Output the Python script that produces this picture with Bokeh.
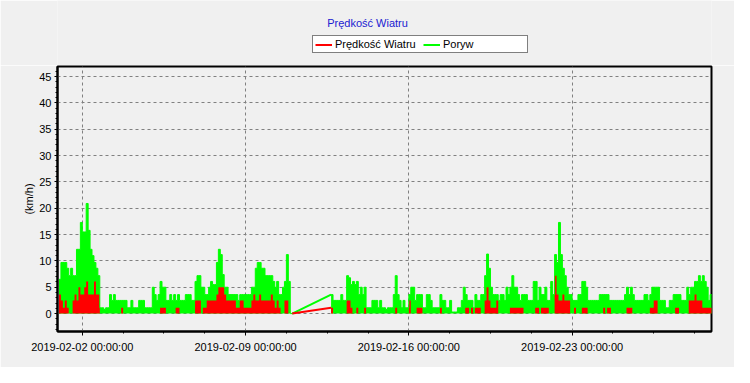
import numpy as np
from datetime import datetime
from bokeh.plotting import figure
from bokeh.layouts import column
from bokeh.models import (Range1d, FixedTicker, DatetimeTickFormatter, Legend,
                          LegendItem, Label)
from bokeh.embed import file_html
from bokeh.resources import INLINE

# ---------------- data (2-hour samples, km/h) ----------------
title_text = "Prędkość Wiatru"
series_names = ["Prędkość Wiatru", "Poryw"]
y_label = "(km/h)"
y_ticks = [0, 5, 10, 15, 20, 25, 30, 35, 40, 45]
x_ticks = ["2019-02-02", "2019-02-09", "2019-02-16", "2019-02-23"]

start_a = "2019-02-01T00:00"   # first block: 02-01 .. 02-10
gust_a = [
    6.5, 9.7, 9.7, 9.7, 8.6, 7.2, 8.6, 7.2, 7.2, 12.2, 12.2, 17.3,
    15.5, 15.5, 20.9, 15.8, 12.2, 11.0, 9.7, 8.6, 7.2, 1.1, 1.1, 0.8,
    1.1, 1.1, 3.6, 2.5, 3.6, 2.5, 2.5, 2.5, 2.5, 2.5, 2.5, 1.1,
    1.1, 2.5, 1.1, 1.1, 1.1, 2.5, 2.5, 2.5, 1.1, 1.1, 1.1, 1.1,
    5.0, 3.6, 2.5, 3.6, 6.1, 5.0, 5.0, 2.5, 2.5, 3.6, 2.5, 3.6,
    2.5, 3.6, 2.5, 2.5, 2.5, 3.6, 3.6, 3.6, 2.5, 2.5, 6.1, 7.2,
    7.2, 5.0, 5.0, 3.6, 3.6, 5.0, 6.1, 5.5, 5.5, 9.7, 12.2, 11.2,
    7.4, 5.0, 5.0, 3.6, 3.6, 3.6, 3.6, 3.6, 2.5, 3.6, 3.6, 3.6,
    3.6, 3.6, 3.6, 5.0, 5.0, 8.6, 9.7, 9.7, 8.6, 8.6, 7.2, 7.2,
    7.2, 7.2, 6.1, 5.0, 6.1, 3.6, 3.6, 5.0, 6.1, 11.2, 6.1, 0.0,
]
speed_a = [
    3.6, 2.5, 1.1, 2.5, 1.1, 0, 0, 2.5, 3.6, 2.5, 5.0, 3.6,
    3.6, 5.0, 6.1, 3.6, 3.6, 3.6, 6.1, 3.6, 3.6, 0, 0, 0,
    0, 0, 0, 0, 0, 0, 0, 0, 1.1, 0, 0, 0,
    0, 0, 0, 0, 0, 0, 0, 0, 0, 0, 0, 0,
    0, 0, 0, 0, 1.1, 1.1, 1.1, 0, 0, 0, 0, 0,
    1.1, 1.1, 0, 0, 0, 0, 0, 0, 0, 0, 2.5, 2.5,
    2.5, 0, 1.1, 1.1, 2.5, 2.5, 2.5, 2.5, 2.5, 3.6, 5.0, 5.0,
    5.0, 3.6, 2.5, 2.5, 2.5, 2.5, 2.5, 1.1, 1.1, 2.5, 2.5, 1.1,
    1.1, 1.1, 1.1, 2.5, 3.6, 2.5, 2.5, 3.6, 2.5, 2.5, 2.5, 2.5,
    2.5, 3.6, 2.5, 1.1, 2.5, 1.1, 0, 0, 2.5, 2.5, 0, 0,
]

start_b = "2019-02-12T16:00"   # second block after the data gap
gust_b = [
    3.6, 2.5, 2.5, 2.5,
    2.5, 3.6, 2.5, 2.5, 7.2, 6.8, 5.5, 6.1, 5.5, 6.1, 3.6, 5.0,
    3.6, 5.0, 1.1, 1.1, 1.1, 2.5, 2.5, 2.5, 1.1, 2.5, 1.1, 1.1,
    0.8, 1.1, 1.1, 1.1, 3.6, 7.2, 3.6, 2.5, 1.1, 2.5, 1.1, 1.1,
    3.6, 5.0, 5.0, 2.5, 3.6, 3.6, 3.6, 1.1, 1.1, 3.6, 3.6, 2.5,
    1.1, 1.1, 1.1, 1.1, 3.6, 2.5, 2.5, 1.1, 1.1, 2.5, 0.3, 0.3,
    0.3, 1.1, 1.1, 2.5, 5.0, 3.6, 2.5, 2.5, 2.5, 1.1, 3.6, 2.5,
    2.5, 3.6, 3.6, 7.2, 11.3, 8.6, 5.0, 3.6, 3.6, 3.6, 2.5, 3.6,
    3.6, 2.5, 5.0, 3.6, 5.0, 7.2, 5.0, 5.0, 3.6, 2.5, 3.6, 3.6,
    3.6, 2.5, 2.5, 2.5, 6.1, 6.1, 2.5, 5.0, 3.6, 3.6, 5.0, 2.5,
    2.5, 6.1, 3.6, 11.2, 9.7, 17.3, 11.2, 8.6, 7.2, 5.0, 3.6, 3.6,
    2.5, 2.5, 2.5, 3.6, 3.6, 6.1, 6.1, 5.0, 2.5, 2.5, 2.5, 2.5,
    2.5, 2.5, 3.6, 3.6, 3.6, 3.6, 3.6, 2.5, 2.5, 2.5, 2.5, 2.5,
    2.5, 2.5, 2.5, 3.6, 5.0, 3.6, 5.0, 3.6, 2.5, 2.5, 2.5, 2.5,
    2.5, 3.6, 3.6, 2.5, 3.6, 5.0, 5.0, 5.0, 5.0, 2.5, 2.5, 2.5,
    1.1, 1.1, 2.5, 2.5, 3.6, 3.6, 3.6, 3.6, 2.5, 2.5, 2.5, 5.0,
    3.6, 5.0, 5.0, 6.1, 6.1, 7.2, 6.1, 7.2, 6.1, 5.0, 2.5, 3.6,
]
speed_b = [
    1.1, 0, 0, 0,
    0, 0, 0, 0, 2.5, 2.5, 1.1, 0, 0, 1.1, 0, 0,
    0, 1.1, 0, 0, 0, 0, 0, 0, 0, 0, 0, 0,
    0, 0, 0, 0, 0, 1.1, 0, 0, 0, 0, 0, 0,
    2.5, 0, 0, 0, 1.1, 1.1, 1.1, 0, 0, 0, 0, 0,
    0, 0, 0, 0, 1.1, 0, 0, 0, 0, 0, 0, 0,
    0, 0, 0, 0, 0, 1.1, 1.1, 0, 1.1, 0, 1.1, 1.1,
    1.1, 0, 0, 2.5, 5.0, 2.5, 1.1, 1.1, 1.1, 2.5, 0, 0,
    0, 0, 0, 0, 1.1, 1.1, 1.1, 1.1, 1.1, 1.1, 1.1, 0,
    0, 0, 0, 0, 0, 1.1, 1.1, 0, 1.1, 1.1, 1.1, 1.1,
    0, 0, 0, 7.2, 3.6, 2.5, 2.5, 3.6, 2.5, 2.5, 2.5, 0,
    0, 1.1, 0, 0, 0, 1.1, 1.1, 1.1, 0, 0, 0, 0,
    0, 0, 0, 0, 1.1, 0, 1.1, 1.1, 0, 0, 0, 0,
    0, 0, 0, 0, 1.1, 1.1, 1.1, 0, 0, 0, 0, 0,
    0, 0, 0, 0, 1.1, 1.1, 2.5, 2.5, 0, 0, 0, 0,
    0, 0, 0, 0, 0, 1.1, 1.1, 0, 0, 0, 0, 0,
    2.5, 2.5, 2.5, 3.6, 2.5, 2.5, 2.5, 1.1, 1.1, 1.1, 1.1, 1.1,
]

# ---------------- derived arrays ----------------
step = np.timedelta64(2, "h")
t_a = np.datetime64(start_a) + np.arange(len(gust_a) + 1) * step
t_b = np.datetime64(start_b) + np.arange(len(gust_b) + 1) * step
ga = gust_a + [gust_a[-1]]
sa = speed_a + [speed_a[-1]]
gb = gust_b + [gust_b[-1]]
sb = speed_b + [speed_b[-1]]
t_all = np.concatenate([t_a, t_b])

RED = "#ff0000"
GREEN = "#00ff00"
FONT = "Liberation Sans"
BG = "#f0f0f0"

x_rng = Range1d(datetime(2019, 1, 31, 22, 28), datetime(2019, 2, 28, 23, 27))

# ---------------- header (title + legend) ----------------
head = figure(width=734, height=65, output_backend="svg", toolbar_location=None,
              title_location=None, x_axis_location=None, y_axis_location=None,
              x_axis_type="datetime", x_range=x_rng, y_range=Range1d(100, 110),
              min_border_left=57, min_border_right=23, min_border_top=0,
              min_border_bottom=0, outline_line_color=None,
              background_fill_color=BG, border_fill_color=BG)
head.xgrid.visible = False
head.ygrid.visible = False
# legend carriers (data lie below this header's visible range)
red_leg = head.step(t_all, sa + sb, mode="after", line_color=RED, line_width=2)
green_leg = head.step(t_all, ga + gb, mode="after", line_color=GREEN, line_width=2)
# header frame is aligned with the chart frame (starts at x=57)
head.add_layout(Label(x=310, y=43, x_units="screen", y_units="screen",
                      text=title_text, text_align="center", text_baseline="middle",
                      text_font=FONT, text_font_size="11px", text_color="#2020d0"))
legend = Legend(items=[LegendItem(label=series_names[0], renderers=[red_leg]),
                       LegendItem(label=series_names[1], renderers=[green_leg])],
                location=(255, 12), orientation="horizontal",
                glyph_width=17, glyph_height=11, label_height=11, label_width=82,
                label_standoff=3, spacing=6, padding=2, margin=0,
                label_text_font=FONT, label_text_font_size="11px",
                label_text_color="black",
                border_line_color="black", border_line_width=1,
                background_fill_color="white", background_fill_alpha=1.0)
head.add_layout(legend)

# ---------------- main chart ----------------
p = figure(width=734, height=302, x_axis_type="datetime",
           output_backend="svg", toolbar_location=None, title_location=None,
           x_range=x_rng, y_range=Range1d(-3.4, 46.9),
           min_border_left=57, min_border_right=23,
           min_border_top=1, min_border_bottom=36,
           background_fill_color=BG, border_fill_color=BG)
p.outline_line_color = "black"
p.outline_line_width = 2

for t, g in ((t_a, ga), (t_b, gb)):
    p.varea_step(x=t, y1=0, y2=g, step_mode="after", fill_color=GREEN)
for t, s in ((t_a, sa), (t_b, sb)):
    p.varea_step(x=t, y1=0, y2=s, step_mode="after", fill_color=RED)
for t, g in ((t_a, ga), (t_b, gb)):
    p.step(t, g, mode="after", line_color=GREEN, line_width=1)
# lines across the data gap
p.line([t_a[-1], t_b[0]], [ga[-1], gb[0]], line_color=GREEN, line_width=2)
p.line([t_a[-1], t_b[0]], [sa[-1], sb[0]], line_color=RED, line_width=2)

# axes
xt = [np.datetime64(d).astype("datetime64[ms]").astype(np.int64) for d in x_ticks]
minor_step = 42 * 3600 * 1000
minor = [xt[0] + k * minor_step for k in range(0, 16)]
p.xaxis.ticker = FixedTicker(ticks=xt, minor_ticks=minor)
fmt = "%Y-%m-%d %H:%M:%S"
p.xaxis.formatter = DatetimeTickFormatter(
    microseconds=fmt, milliseconds=fmt, seconds=fmt, minsec=fmt, minutes=fmt,
    hourmin=fmt, hours=fmt, days=fmt, months=fmt, years=fmt)
p.yaxis.ticker = FixedTicker(ticks=y_ticks, minor_ticks=list(range(-3, 47)))
p.yaxis.axis_label = y_label

for ax in (p.xaxis, p.yaxis):
    ax.axis_line_color = "black"
    ax.axis_line_width = 2
    ax.major_tick_line_color = "black"
    ax.minor_tick_line_color = "black"
    ax.major_tick_in = 0
    ax.minor_tick_in = 0
    ax.major_label_text_font = FONT
    ax.major_label_text_font_size = "11px"
    ax.major_label_text_color = "black"
    ax.axis_label_text_font = FONT
    ax.axis_label_text_font_size = "11px"
    ax.axis_label_text_font_style = "normal"
    ax.axis_label_text_color = "black"
p.xaxis.major_tick_out = 4
p.xaxis.minor_tick_out = 2
p.xaxis.major_label_standoff = 5
p.yaxis.major_tick_out = 3
p.yaxis.minor_tick_out = 2
p.yaxis.major_label_standoff = 3
p.yaxis.axis_label_standoff = 1

for g in (p.xgrid, p.ygrid):
    g.grid_line_color = "#808080"
    g.grid_line_dash = "3 3"
    g.grid_line_width = 1

layout = column(head, p, spacing=0)
open("out.html", "w").write(file_html(layout, INLINE))
